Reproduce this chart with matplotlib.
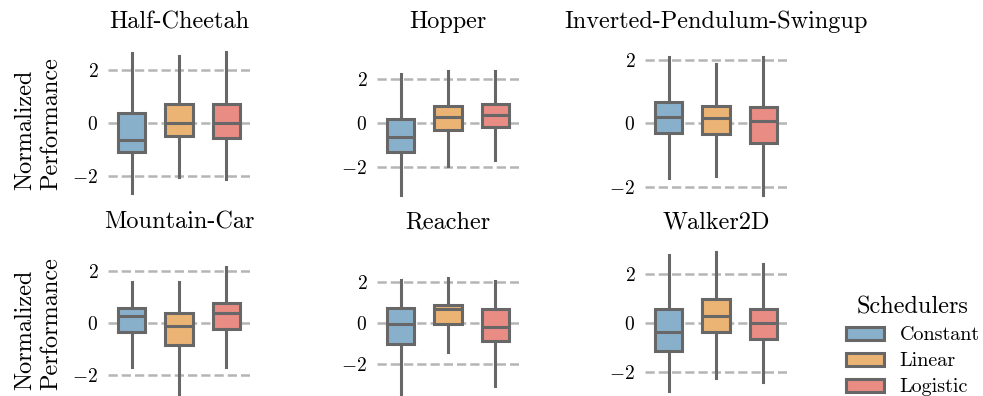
import numpy as np
import matplotlib
matplotlib.use("Agg")
import matplotlib.pyplot as plt
from matplotlib.patches import Patch

plt.rcParams['font.family'] = 'serif'
plt.rcParams['font.serif'] = ['cmr10']
plt.rcParams['mathtext.fontset'] = 'cm'
plt.rcParams['axes.formatter.use_mathtext'] = True

envs = ['Half-Cheetah', 'Hopper', 'Inverted-Pendulum-Swingup',
        'Mountain-Car', 'Reacher', 'Walker2D']
schedulers = ['Constant', 'Linear', 'Logistic']
colors = ['#88b0cb', '#ebb474', '#e98c84']

# box statistics per environment, one value per scheduler
whislo = [[-2.64, -2.03, -2.11],
          [-3.26, -1.93, -1.67],
          [-1.72, -1.68, -2.26],
          [-1.69, -2.80, -1.69],
          [-3.50, -1.40, -3.07],
          [-2.75, -2.21, -2.40]]
q1 = [[-1.08, -0.49, -0.55],
      [-1.29, -0.30, -0.15],
      [-0.30, -0.35, -0.61],
      [-0.35, -0.86, -0.22],
      [-1.02, -0.05, -0.88],
      [-1.11, -0.34, -0.65]]
med = [[-0.64, 0.00, 0.00],
       [-0.61, 0.29, 0.38],
       [0.21, 0.16, 0.08],
       [0.26, -0.13, 0.37],
       [-0.07, 0.67, -0.18],
       [-0.35, 0.31, 0.02]]
q3 = [[0.38, 0.72, 0.72],
      [0.20, 0.79, 0.86],
      [0.68, 0.55, 0.50],
      [0.59, 0.37, 0.76],
      [0.75, 0.86, 0.67],
      [0.60, 0.99, 0.60]]
whishi = [[2.64, 2.53, 2.69],
          [2.24, 2.38, 2.38],
          [2.10, 1.87, 2.08],
          [1.60, 1.60, 2.18],
          [2.10, 2.18, 2.06],
          [2.78, 2.91, 2.40]]

ylims = [(-2.83, 3.21), (-3.40, 3.88), (-2.36, 2.69),
         (-2.91, 3.29), (-3.66, 4.15), (-3.04, 3.47)]

W, H = 983, 396
fig = plt.figure(figsize=(W / 100, H / 100), dpi=100)

lefts = [108, 377, 645]
tops = [38, 238]
aw, ah = 142, 160
edge = '#676767'

for i, env in enumerate(envs):
    r, c = divmod(i, 3)
    ax = fig.add_axes([lefts[c] / W, (H - tops[r] - ah) / H, aw / W, ah / H])
    stats = []
    for j in range(3):
        stats.append(dict(med=med[i][j], q1=q1[i][j], q3=q3[i][j],
                          whislo=whislo[i][j], whishi=whishi[i][j], fliers=[]))
    bp = ax.bxp(stats, positions=[0, 1, 2], widths=0.58, patch_artist=True,
                showfliers=False, showcaps=False,
                boxprops=dict(edgecolor=edge, linewidth=2.2),
                whiskerprops=dict(color=edge, linewidth=2.2),
                medianprops=dict(color=edge, linewidth=2.2))
    for patch, col in zip(bp['boxes'], colors):
        patch.set_facecolor(col)
    ax.set_xlim(-0.5, 2.5)
    ax.set_ylim(*ylims[i])
    ax.set_yticks([-2, 0, 2])
    ax.set_xticks([])
    ax.yaxis.grid(True, linestyle='--', color='#b5b5b5', linewidth=1.8)
    ax.set_axisbelow(True)
    for s in ax.spines.values():
        s.set_visible(False)
    ax.tick_params(axis='y', length=0, pad=7, labelsize=14)
    ax.set_title(env, fontsize=17.5, pad=7)
    if c == 0:
        ax.set_ylabel('Normalized\nPerformance', fontsize=17.5, multialignment='left')
        ax.yaxis.set_label_coords(-(108 - 62) / aw, 0.4625)

handles = [Patch(facecolor=col, edgecolor=edge, linewidth=2.2) for col in colors]
leg = fig.legend(handles, schedulers, title='Schedulers', loc='upper left',
                 bbox_to_anchor=(828 / W, (H - 278) / H), frameon=False,
                 fontsize=14.5, title_fontsize=17.5, handlelength=1.9,
                 handleheight=0.6, labelspacing=0.4, handletextpad=0.75)

fig.savefig('out.png', dpi=100)
